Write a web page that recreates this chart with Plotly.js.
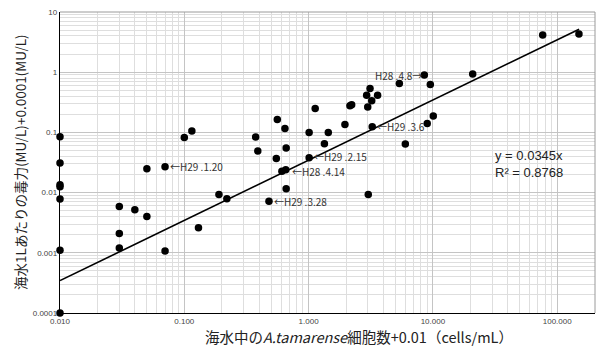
<!DOCTYPE html>
<html>
<head>
<meta charset="utf-8">
<script src="https://cdn.plot.ly/plotly-3.0.1.min.js"></script>
<style>html,body{margin:0;padding:0;background:#fff;}#chart{width:598px;height:347px;}</style>
</head>
<body>
<div id="chart"></div>
<script>
// Data
const cellsX = [0.01,0.01,0.01,0.01,0.01,0.01,0.01, 0.03,0.03,0.03, 0.04, 0.05,0.05, 0.07,0.07, 0.1, 0.115, 0.13, 0.19, 0.22,
  0.375, 0.39, 0.55, 0.56, 0.645, 0.66, 0.61, 0.655, 0.66, 0.48,
  1.01, 1.13, 1.01, 1.34, 1.44, 1.96, 2.15, 2.22, 2.99, 2.93, 3.12, 3.22, 3.59, 3.25, 3.02,
  6.0, 5.37, 8.53, 9.53, 9.0, 10.07, 20.9, 76.4, 149.6];
const toxinY = [0.085,0.031,0.0135,0.0125,0.0078,0.0011,0.0001, 0.0059,0.0021,0.0012, 0.0052, 0.004,0.025, 0.027,0.00107, 0.082, 0.106, 0.0026, 0.0093, 0.0079,
  0.084, 0.049, 0.037, 0.164, 0.116, 0.055, 0.0226, 0.024, 0.0116, 0.0072,
  0.1, 0.25, 0.038, 0.065, 0.1, 0.135, 0.276, 0.287, 0.265, 0.416, 0.537, 0.334, 0.416, 0.124, 0.0093,
  0.064, 0.65, 0.895, 0.627, 0.141, 0.188, 0.93, 4.14, 4.3];

const trendX = [0.01, 150];
const trendY = [0.000345, 5.175];

const labelText = ["←H29 .1.20", "←H29 .2.15", "←H28 .4.14", "←H29 .3.28", "←H29 .3.6", "H28 .4.8→"];
const labelX = [0.07, 1.01, 0.655, 0.48, 3.25, 8.53];
const labelY = [0.027, 0.038, 0.024, 0.0072, 0.124, 0.895];
const labelSide = ["left", "left", "left", "left", "left", "right"];

const xTickVals = [0.01, 0.1, 1, 10, 100];
const xTickText = ["0.010", "0.100", "1.000", "10.000", "100.000"];
const yTickVals = [0.0001, 0.001, 0.01, 0.1, 1, 10];
const yTickText = ["0.0001", "0.001", "0.01", "0.1", "1", "10"];

const xTitle = '海水中の<i>A.tamarense</i>細胞数+0.01（cells/mL）';
const yTitle = '海水1Lあたりの毒力(MU/L)+0.0001(MU/L)';
const equationText = "y = 0.0345x<br>R² = 0.8768";

function minorVals(lo, hi) {
  const out = [];
  for (let e = lo; e < hi; e++) for (let d = 2; d <= 9; d++) out.push(d * Math.pow(10, e));
  return out;
}

const traces = [
  {x: trendX, y: trendY, type: 'scatter', mode: 'lines', line: {color: '#000', width: 1.6}, hoverinfo: 'skip', showlegend: false},
  {x: cellsX, y: toxinY, type: 'scatter', mode: 'markers', marker: {color: '#000', size: 7.5}, showlegend: false, cliponaxis: false}
];

const annotations = labelText.map((t, i) => ({
  x: Math.log10(labelX[i]), y: Math.log10(labelY[i]), xref: 'x', yref: 'y',
  text: t, showarrow: false,
  xanchor: labelSide[i] === 'left' ? 'left' : 'right', yanchor: 'middle',
  xshift: labelSide[i] === 'left' ? (t.indexOf('4.14') >= 0 ? 4 : 3) : 0,
  yshift: t.indexOf('4.14') >= 0 ? -2 : (t.indexOf('2.15') >= 0 ? 1 : 0),
  font: {family: 'Noto Sans CJK JP, sans-serif', size: 10, color: '#333'}
}));
annotations.push({
  x: 0.809, y: 0.496, xref: 'paper', yref: 'paper', text: equationText, showarrow: false,
  xanchor: 'left', yanchor: 'middle', align: 'left',
  font: {family: 'Liberation Sans, Arial, sans-serif', size: 13, color: '#222'}
});
annotations.push({
  x: 0.559, y: -0.078, xref: 'paper', yref: 'paper', text: xTitle, showarrow: false,
  xanchor: 'center', yanchor: 'middle',
  font: {family: 'Noto Sans CJK JP, sans-serif', size: 14.5, color: '#222'}
});
annotations.push({
  x: -0.0748, y: 0.502, xref: 'paper', yref: 'paper', text: yTitle, showarrow: false,
  xanchor: 'center', yanchor: 'middle', textangle: -90,
  font: {family: 'Noto Sans CJK JP, sans-serif', size: 13.5, color: '#222'}
});

const layout = {
  width: 598, height: 347,
  margin: {l: 60, r: 3, t: 12, b: 34, pad: 0},
  paper_bgcolor: '#fff', plot_bgcolor: '#fff',
  font: {family: 'Noto Sans CJK JP, sans-serif', color: '#222'},
  xaxis: {
    type: 'log', range: [-2, 2.304], autorange: false,
    tickmode: 'array', tickvals: xTickVals, ticktext: xTickText,
    tickfont: {family: 'Liberation Sans, sans-serif', size: 8, color: '#444'},
    ticks: '', showline: true, linecolor: '#000', linewidth: 1.2,
    showgrid: true, gridcolor: '#c4c4c4', gridwidth: 1, zeroline: false,
    minor: {tickmode: 'array', tickvals: minorVals(-2, 3), showgrid: true, gridcolor: '#dedede', gridwidth: 1, ticks: ''}
  },
  yaxis: {
    type: 'log', range: [-4, 1], autorange: false,
    tickmode: 'array', tickvals: yTickVals, ticktext: yTickText,
    tickfont: {family: 'Liberation Sans, sans-serif', size: 8, color: '#444'},
    ticks: '', showline: true, linecolor: '#000', linewidth: 1.2,
    showgrid: true, gridcolor: '#c4c4c4', gridwidth: 1, zeroline: false,
    minor: {tickmode: 'array', tickvals: minorVals(-4, 1), showgrid: true, gridcolor: '#dedede', gridwidth: 1, ticks: ''}
  },
  shapes: [
    {type: 'line', xref: 'paper', yref: 'paper', x0: 0, x1: 1, y0: 1, y1: 1, line: {color: '#9a9a9a', width: 1}},
    {type: 'line', xref: 'paper', yref: 'paper', x0: 1, x1: 1, y0: 0, y1: 1, line: {color: '#9a9a9a', width: 1}}
  ],
  annotations: annotations
};

Plotly.newPlot('chart', traces, layout, {staticPlot: true, displayModeBar: false});
</script>
</body>
</html>
